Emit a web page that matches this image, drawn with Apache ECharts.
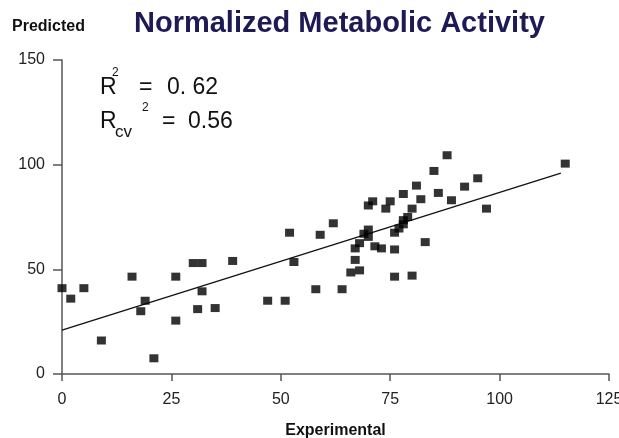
<!DOCTYPE html>
<html>
<head>
<meta charset="utf-8">
<script src="https://cdn.jsdelivr.net/npm/echarts@6/dist/echarts.min.js"></script>
<style>
    html, body { margin: 0; padding: 0; background: #fff; }
    #main { width: 619px; height: 438px; }
</style>
</head>
<body>
<div id="main"></div>
<script>
// experimental vs predicted values
var expX = [0, 2, 5, 9, 16, 19, 18, 21, 26, 26, 30, 32, 32, 31, 35, 39, 47, 51, 52, 53,
    58, 59, 62, 64, 66, 68, 67, 67, 68, 69, 70, 70, 70, 71, 71.5, 73, 74, 75, 76, 76,
    76, 77, 78, 78, 79, 80, 78, 81, 80, 82, 83, 85, 86, 88, 89, 92, 95, 97, 115];
var predY = [41, 36, 41, 16, 46.5, 35, 30, 7.5, 46.5, 25.5, 53, 53, 39.5, 31, 31.5, 54, 35, 35, 67.5, 53.5,
    40.5, 66.5, 72, 40.5, 48.5, 49.5, 54.5, 60, 62.5, 67, 69, 65.5, 80.5, 82.5, 61, 60, 79, 82.5, 59.5, 46.5,
    67.5, 69.5, 71.5, 73.5, 75, 79, 86, 90, 47, 83.5, 63, 97, 86.5, 104.5, 83, 89.5, 93.5, 79, 100.5];

// regression line end points
var fitX = [0, 114];
var fitY = [21, 96];

var xTicks = [0, 25, 50, 75, 100, 125];
var yTicks = [0, 50, 100, 150];

var FONT = 'Liberation Sans, Arial, sans-serif';

var points = expX.map(function (x, i) { return [x, predY[i]]; });
var fitLine = fitX.map(function (x, i) { return [x, fitY[i]]; });

var chart = echarts.init(document.getElementById('main'));

var option = {
    backgroundColor: '#fff',
    animation: false,
    grid: { left: 62, right: 10, top: 60, bottom: 64, outerBoundsMode: 'none', containLabel: false },
    xAxis: {
        type: 'value',
        min: xTicks[0],
        max: xTicks[xTicks.length - 1],
        interval: 25,
        name: 'Experimental',
        nameLocation: 'middle',
        nameGap: 49,
        nameTextStyle: { fontFamily: FONT, fontSize: 16, fontWeight: 'bold', color: '#111' },
        axisLine: { lineStyle: { color: '#555', width: 1.5 } },
        axisTick: { length: 7, lineStyle: { color: '#555', width: 1.5 } },
        axisLabel: { margin: 18, fontFamily: FONT, fontSize: 16, color: '#222' },
        splitLine: { show: false }
    },
    yAxis: {
        type: 'value',
        min: yTicks[0],
        max: yTicks[yTicks.length - 1],
        interval: 50,
        axisLine: { show: true, lineStyle: { color: '#555', width: 1.5 } },
        axisTick: { show: true, length: 9, lineStyle: { color: '#555', width: 1.5 } },
        axisLabel: { margin: 17, fontFamily: FONT, fontSize: 16, color: '#222' },
        splitLine: { show: false }
    },
    graphic: [
        { type: 'text', left: 12, top: 19, style: { text: 'Predicted', font: 'bold 16px ' + FONT, fill: '#111' } },
        { type: 'text', left: 134, top: 9, style: { text: 'Normalized Metabolic Activity', font: 'bold 29px ' + FONT, fill: '#1e1a55' } },
        // R^2
        { type: 'text', left: 100, top: 76, style: { text: 'R', font: '23px ' + FONT, fill: '#111' } },
        { type: 'text', left: 112, top: 67, style: { text: '2', font: '12px ' + FONT, fill: '#111' } },
        { type: 'text', left: 139, top: 76, style: { text: '=', font: '23px ' + FONT, fill: '#111' } },
        { type: 'text', left: 167, top: 76, style: { text: '0. 62', font: '23px ' + FONT, fill: '#111' } },
        // Rcv^2
        { type: 'text', left: 100, top: 110, style: { text: 'R', font: '23px ' + FONT, fill: '#111' } },
        { type: 'text', left: 115, top: 124, style: { text: 'cv', font: '17px ' + FONT, fill: '#111' } },
        { type: 'text', left: 142, top: 102, style: { text: '2', font: '12px ' + FONT, fill: '#111' } },
        { type: 'text', left: 162, top: 110, style: { text: '=', font: '23px ' + FONT, fill: '#111' } },
        { type: 'text', left: 188, top: 110, style: { text: '0.56', font: '23px ' + FONT, fill: '#111' } }
    ],
    series: [
        {
            type: 'line',
            data: fitLine,
            symbol: 'none',
            lineStyle: { color: '#111', width: 1.3 },
            z: 2
        },
        {
            type: 'scatter',
            data: points,
            symbol: 'rect',
            symbolSize: [9, 8],
            itemStyle: { color: '#000' },
            z: 3
        }
    ]
};

chart.setOption(option);
</script>
</body>
</html>
